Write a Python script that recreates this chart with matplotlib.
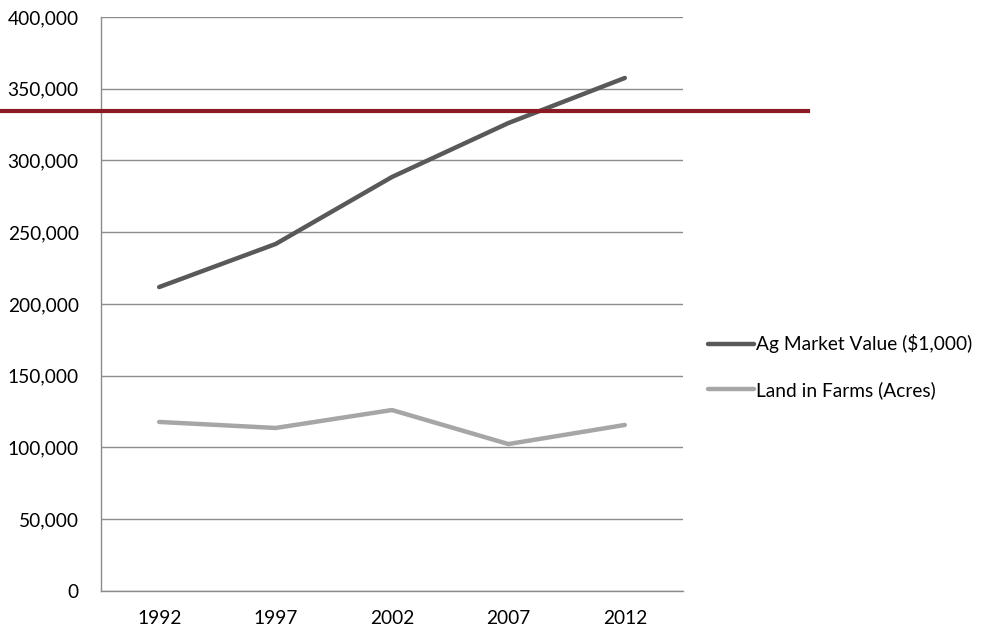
import matplotlib.pyplot as plt
from matplotlib.ticker import FuncFormatter

# data
years = ['1992', '1997', '2002', '2007', '2012']
ag_market_value = [211800, 241800, 288500, 326100, 357500]
land_in_farms = [117800, 113600, 126100, 102400, 115700]
ref_level = 334500

plt.rcParams['font.family'] = ['Lato', 'DejaVu Sans']
FS = 13.8

fig = plt.figure(figsize=(9.85, 6.32), dpi=100)
ax = fig.add_axes([0.1025, 0.0649, 0.5909, 0.9082])

x = range(len(years))
ax.plot(x, ag_market_value, color='#595959', lw=3.2, solid_capstyle='round',
        label='Ag Market Value ($1,000)', zorder=3)
ax.plot(x, land_in_farms, color='#a6a6a6', lw=3.2, solid_capstyle='round',
        label='Land in Farms (Acres)', zorder=3)

ax.set_xlim(-0.5, len(years) - 0.5)
ax.set_ylim(0, 400000)
ax.set_yticks(range(0, 400001, 50000))
ax.yaxis.set_major_formatter(FuncFormatter(lambda v, p: '{:,.0f}'.format(v)))
ax.set_xticks(list(x))
ax.set_xticklabels(years)

ax.grid(axis='y', color='#8c8c8c', lw=1)
ax.set_axisbelow(True)
for s in ['top', 'right']:
    ax.spines[s].set_visible(False)
for s in ['left', 'bottom']:
    ax.spines[s].set_color('#8c8c8c')
    ax.spines[s].set_linewidth(1)
ax.tick_params(axis='both', length=0, labelsize=FS, colors='black')
ax.tick_params(axis='y', pad=16)
ax.tick_params(axis='x', pad=14)

# red rule across the chart
ax.axhline(ref_level, xmin=-0.174, xmax=1.215, color='#8b1a24', lw=3,
           clip_on=False, zorder=4)

fig.legend(loc='center left', bbox_to_anchor=(0.709, 0.42), frameon=False,
           fontsize=FS, handlelength=2.4, handletextpad=0.12,
           labelspacing=1.45, borderpad=0)

fig.savefig('out.png', dpi=100)
